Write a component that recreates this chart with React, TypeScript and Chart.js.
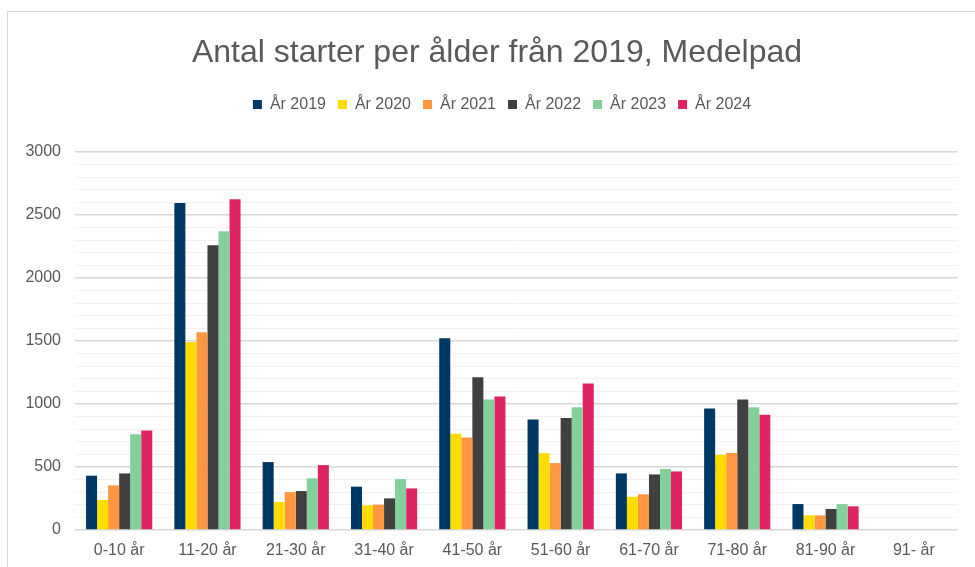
import React, { useEffect, useRef } from 'react';
import { Chart, registerables } from 'chart.js';

Chart.register(...registerables);

const categories = ['0-10 år', '11-20 år', '21-30 år', '31-40 år', '41-50 år', '51-60 år', '61-70 år', '71-80 år', '81-90 år', '91- år'];
const seriesLabels = ['År 2019', 'År 2020', 'År 2021', 'År 2022', 'År 2023', 'År 2024'];
const values2019 = [431, 2595, 539, 344, 1522, 877, 449, 965, 206, null];
const values2020 = [238, 1493, 222, 196, 764, 610, 264, 597, 116, null];
const values2021 = [354, 1570, 301, 201, 735, 531, 283, 611, 116, null];
const values2022 = [449, 2260, 309, 251, 1213, 888, 441, 1036, 167, null];
const values2023 = [759, 2371, 410, 404, 1036, 975, 484, 975, 206, null];
const values2024 = [790, 2625, 515, 330, 1060, 1163, 465, 914, 188, null];
const seriesColors = ['#003865', '#FFDC00', '#FF9640', '#404040', '#84D09A', '#DE2462'];
const titleText = 'Antal starter per ålder från 2019, Medelpad';
const yMax = 3000;
const yStep = 100;
const yLabelStep = 500;

const FONT = '"Liberation Sans", Arial, sans-serif';
const TEXT = '#595959';

const recenterPlugin = {
  id: 'recenterHeader',
  afterLayout(chart: any) {
    if (chart.titleBlock) {
      chart.titleBlock.left = 0;
      chart.titleBlock.right = 994;
    }
    if (chart.legend) {
      chart.legend.left = 0;
      chart.legend.right = 1004;
    }
  },
};

export default function App() {
  const ref = useRef<HTMLCanvasElement | null>(null);

  useEffect(() => {
    if (!ref.current) return;
    const all = [values2019, values2020, values2021, values2022, values2023, values2024];
    const chart = new Chart(ref.current, {
      type: 'bar',
      data: {
        labels: categories,
        datasets: all.map((d, i) => ({
          label: seriesLabels[i],
          data: d,
          backgroundColor: seriesColors[i],
          borderWidth: 0,
          categoryPercentage: 0.75,
          barPercentage: 1.0,
        })),
      },
      plugins: [recenterPlugin],
      options: {
        responsive: false,
        animation: false,
        devicePixelRatio: 1,
        layout: { padding: { top: 12, left: 0, right: 36, bottom: 0 } },
        plugins: {
          title: {
            display: true,
            text: titleText,
            color: TEXT,
            font: { family: FONT, size: 32, weight: 'normal' },
            padding: { top: 22, bottom: 12 },
          },
          subtitle: {
            display: true,
            text: '',
            weight: 500,
            font: { family: FONT, size: 1, lineHeight: 1 },
            padding: { top: 28.6, bottom: 0 },
          } as any,
          legend: {
            display: true,
            position: 'top',
            labels: {
              color: TEXT,
              font: { family: FONT, size: 16 },
              boxWidth: 9,
              boxHeight: 9,
              padding: 12,
            },
          },
          tooltip: { enabled: false },
        },
        scales: {
          x: {
            grid: { display: false },
            border: { display: false },
            ticks: {
              color: TEXT,
              font: { family: FONT, size: 16 },
              padding: 3,
              maxRotation: 0,
              autoSkip: false,
            },
            afterFit: (scale: any) => {
              scale.height = 37;
            },
          },
          y: {
            min: 0,
            max: yMax,
            border: { display: false },
            grid: {
              drawTicks: false,
              color: (ctx: any) => (ctx.tick && ctx.tick.value % yLabelStep === 0 ? '#d9d9d9' : '#f2f2f2'),
              lineWidth: (ctx: any) => (ctx.tick && ctx.tick.value % yLabelStep === 0 ? 1.5 : 1),
            },
            ticks: {
              stepSize: yStep,
              autoSkip: false,
              color: TEXT,
              font: { family: FONT, size: 16 },
              padding: 14,
              callback: (v: any) => (Number(v) % yLabelStep === 0 ? String(v) : ''),
            },
            afterFit: (scale: any) => {
              scale.width = 75;
            },
          },
        },
      },
    });
    return () => chart.destroy();
  }, []);

  return (
    <div style={{ position: 'fixed', left: 0, top: 0, width: 975, height: 567, overflow: 'hidden', background: '#fff' }}>
      <div
        style={{
          position: 'absolute',
          left: 7,
          top: 11,
          width: 2000,
          height: 2000,
          border: '1px solid #d9d9d9',
          boxSizing: 'border-box',
        }}
      />
      <canvas ref={ref} width={994} height={567} style={{ position: 'absolute', left: 0, top: 0, width: 994, height: 567 }} />
    </div>
  );
}
